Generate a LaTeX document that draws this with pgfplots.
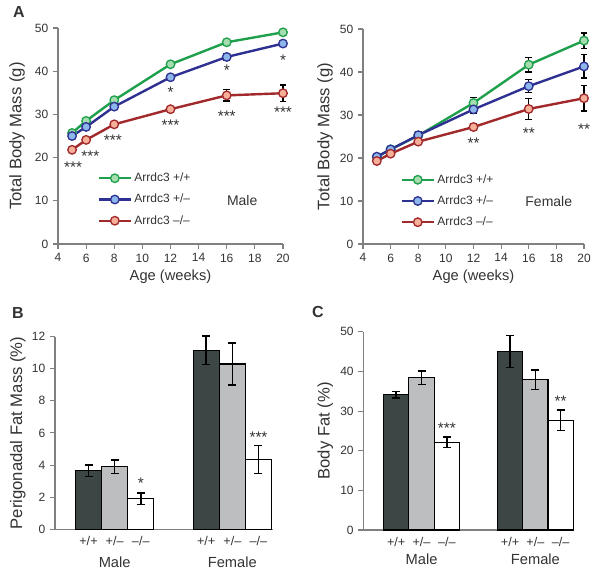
\documentclass[border=0pt]{standalone}
\usepackage{fontspec}
\setmainfont{Liberation Sans}
\usepackage{pgfplots}
\pgfplotsset{compat=1.18}

\definecolor{gline}{HTML}{1FA04C}
\definecolor{gfill}{HTML}{A5DDB0}
\definecolor{bline}{HTML}{2E3192}
\definecolor{bfill}{HTML}{8DB6EA}
\definecolor{rline}{HTML}{A2292B}
\definecolor{rfill}{HTML}{F6B09A}
\definecolor{darkbar}{HTML}{3C4645}
\definecolor{lightbar}{HTML}{BDBEC0}
\definecolor{axgray}{HTML}{808080}
\definecolor{txt}{HTML}{333333}

\tikzset{sig/.style={font=\fontsize{11.5}{11.5}\selectfont, text=txt, yshift=-2.5pt}}

\pgfplotsset{
  panel/.style={scale only axis, axis lines*=left, clip=false,
    axis line style={axgray, line width=0.8pt},
    tick style={axgray, line width=0.8pt}, tick align=outside, major tick length=3.75pt,
    tick label style={font=\fontsize{9}{10}\selectfont, text=txt},
    /pgf/number format/assume math mode=true},
  mass/.style={panel, xmin=4, xmax=20, ymin=0, ymax=50,
    xtick={4,6,...,20}, ytick={0,10,...,50},
    xlabel={Age (weeks)}, ylabel={Total Body Mass (g)},
    xlabel style={font=\fontsize{11}{12}\selectfont, text=txt,
      at={(axis description cs:0.5,-0.153)}, anchor=center},
    legend style={draw=none, fill=none, anchor=west, inner sep=0pt,
      font=\fontsize{9}{10}\selectfont, text=txt, cells={anchor=west},
      row sep=4.3pt, nodes={inner sep=1.8pt}},
    legend image code/.code={\draw[mark repeat=2, mark phase=2]
      plot coordinates {(0pt,0pt) (12pt,0pt) (24pt,0pt)};}},
  bars/.style={panel, ymin=0, xtick={1,2,3,5.5,6.5,7.5},
    xticklabels={+/+,+/–,–/–,+/+,+/–,–/–},
    xtick style={draw=none},
    xticklabel style={font=\fontsize{9.5}{10}\selectfont, yshift=2pt},
    ylabel style={font=\fontsize{12.5}{14}\selectfont, text=txt}},
  myser/.style={#1line, line width=1.8pt, mark=*, mark size=3.2pt,
    mark options={fill=#1fill, draw=#1line, line width=1pt},
    error bars/.cd, y dir=both, y explicit,
    error bar style={black, line width=1pt},
    error mark options={rotate=90, mark size=2.6pt, black, line width=1pt}},
  mybar/.style={ybar, bar width=1, bar shift=0pt, fill=#1, draw=black, line width=0.9pt,
    error bars/.cd, y dir=both, y explicit,
    error bar style={black, line width=1.1pt},
    error mark options={rotate=90, mark size=3pt, black, line width=1.1pt}},
}

\begin{document}
\begin{tikzpicture}
\path[use as bounding box] (0,0) rectangle (450pt,431.25pt);

% A, male
\begin{axis}[mass, at={(43.5pt,248.25pt)}, anchor=south west,
    width=168.75pt, height=162pt,
    ylabel style={font=\fontsize{12.5}{14}\selectfont, text=txt,
      at={(axis description cs:-0.182,0.5)}, anchor=center},
    legend style={at={(axis cs:6.8,10.3)}}]
  \addplot[myser=g] coordinates {(5,25.7) +- (0,0.4) (6,28.5) +- (0,0.5) (8,33.3) +- (0,0.6)
    (12,41.6) +- (0,0.7) (16,46.7) +- (0,0.6) (20,49.0) +- (0,0.5)};
  \addlegendentry{Arrdc3 +/+}
  \addplot[myser=b] coordinates {(5,25.0) +- (0,0.5) (6,27.1) +- (0,0.5) (8,31.8) +- (0,0.6)
    (12,38.6) +- (0,0.7) (16,43.3) +- (0,0.7) (20,46.4) +- (0,0.6)};
  \addlegendentry{Arrdc3 +/–}
  \addplot[myser=r] coordinates {(5,21.8) +- (0,0.5) (6,24.1) +- (0,0.5) (8,27.7) +- (0,0.6)
    (12,31.2) +- (0,0.7) (16,34.4) +- (0,1.3) (20,34.9) +- (0,1.9)};
  \addlegendentry{Arrdc3 –/–}
  \node[sig] at (axis cs:5.07,18.6) {***};
  \node[sig] at (axis cs:6.3,21.0) {***};
  \node[sig] at (axis cs:7.9,24.8) {***};
  \node[sig] at (axis cs:12,35.8) {*};
  \node[sig] at (axis cs:12,28.3) {***};
  \node[sig] at (axis cs:16,40.9) {*};
  \node[sig] at (axis cs:16,30.4) {***};
  \node[sig] at (axis cs:20,43.4) {*};
  \node[sig] at (axis cs:20,31.2) {***};
  \node[font=\fontsize{10.5}{12}\selectfont, text=txt] at (axis cs:17.1,10.1) {Male};
\end{axis}

% A, female
\begin{axis}[mass, at={(272.25pt,248.25pt)}, anchor=south west,
    width=165.75pt, height=161.25pt,
    ylabel style={font=\fontsize{12.5}{14}\selectfont, text=txt,
      at={(axis description cs:-0.172,0.5)}, anchor=center},
    legend style={at={(axis cs:6.7,10.0)}}]
  \addplot[myser=g] coordinates {(5,20.2) +- (0,0.5) (6,22.0) +- (0,0.5) (8,25.2) +- (0,0.7)
    (12,32.8) +- (0,1.2) (16,41.7) +- (0,1.7) (20,47.3) +- (0,1.8)};
  \addlegendentry{Arrdc3 +/+}
  \addplot[myser=b] coordinates {(5,20.3) +- (0,0.5) (6,22.0) +- (0,0.6) (8,25.3) +- (0,0.8)
    (12,31.3) +- (0,0.9) (16,36.7) +- (0,1.5) (20,41.3) +- (0,2.7)};
  \addlegendentry{Arrdc3 +/–}
  \addplot[myser=r] coordinates {(5,19.3) +- (0,0.5) (6,21.0) +- (0,0.6) (8,23.8) +- (0,0.7)
    (12,27.2) +- (0,0.8) (16,31.4) +- (0,2.5) (20,33.9) +- (0,3.0)};
  \addlegendentry{Arrdc3 –/–}
  \node[sig] at (axis cs:12,24.2) {**};
  \node[sig] at (axis cs:16,26.5) {**};
  \node[sig] at (axis cs:20,27.4) {**};
  \node[font=\fontsize{10.5}{12}\selectfont, text=txt] at (axis cs:17.45,9.9) {Female};
\end{axis}

% B
\begin{axis}[bars, at={(41.25pt,34.3pt)}, anchor=south west,
    width=163.5pt, height=144.45pt, xmin=-0.281, xmax=8.055, ymax=12,
    ytick={0,2,...,12}, ylabel={Perigonadal Fat Mass (\%)},
    ylabel style={at={(axis description cs:-0.170,0.5)}, anchor=center}]
  \addplot[mybar=darkbar] coordinates {(1,3.65) +- (0,0.35) (5.5,11.15) +- (0,0.9)};
  \addplot[mybar=lightbar] coordinates {(2,3.9) +- (0,0.42) (6.5,10.3) +- (0,1.3)};
  \addplot[mybar=white] coordinates {(3,1.9) +- (0,0.37) (7.5,4.35) +- (0,0.87)};
  \node[sig] at (axis cs:3,3.07) {*};
  \node[sig] at (axis cs:7.5,5.94) {***};
  \node[font=\fontsize{11}{12}\selectfont, text=txt] at ([yshift=-25pt]axis cs:2,0) {Male};
  \node[font=\fontsize{11}{12}\selectfont, text=txt] at ([yshift=-25pt]axis cs:6.5,0) {Female};
\end{axis}

% C
\begin{axis}[bars, at={(272.5pt,33.75pt)}, anchor=south west,
    width=157.3pt, height=148.7pt, xmin=-0.30, xmax=7.99, ymax=50,
    ytick={0,10,...,50}, ylabel={Body Fat (\%)},
    ylabel style={at={(axis description cs:-0.181,0.5)}, anchor=center}]
  \addplot[mybar=darkbar] coordinates {(1,34.1) +- (0,0.8) (5.5,45.0) +- (0,4.0)};
  \addplot[mybar=lightbar] coordinates {(2,38.4) +- (0,1.7) (6.5,37.9) +- (0,2.5)};
  \addplot[mybar=white] coordinates {(3,22.1) +- (0,1.3) (7.5,27.7) +- (0,2.6)};
  \node[sig] at (axis cs:3,26.5) {***};
  \node[sig] at (axis cs:7.5,33.4) {**};
  \node[font=\fontsize{11}{12}\selectfont, text=txt] at ([yshift=-22pt]axis cs:2,0) {Male};
  \node[font=\fontsize{11}{12}\selectfont, text=txt] at ([yshift=-22pt]axis cs:6.5,0) {Female};
\end{axis}

\node[font=\bfseries\fontsize{12}{12}\selectfont, text=txt] at (14.25pt,422.25pt) {A};
\node[font=\bfseries\fontsize{12}{12}\selectfont, text=txt] at (13.5pt,196.5pt) {B};
\node[font=\bfseries\fontsize{12}{12}\selectfont, text=txt] at (238.5pt,197.25pt) {C};
\end{tikzpicture}
\end{document}
